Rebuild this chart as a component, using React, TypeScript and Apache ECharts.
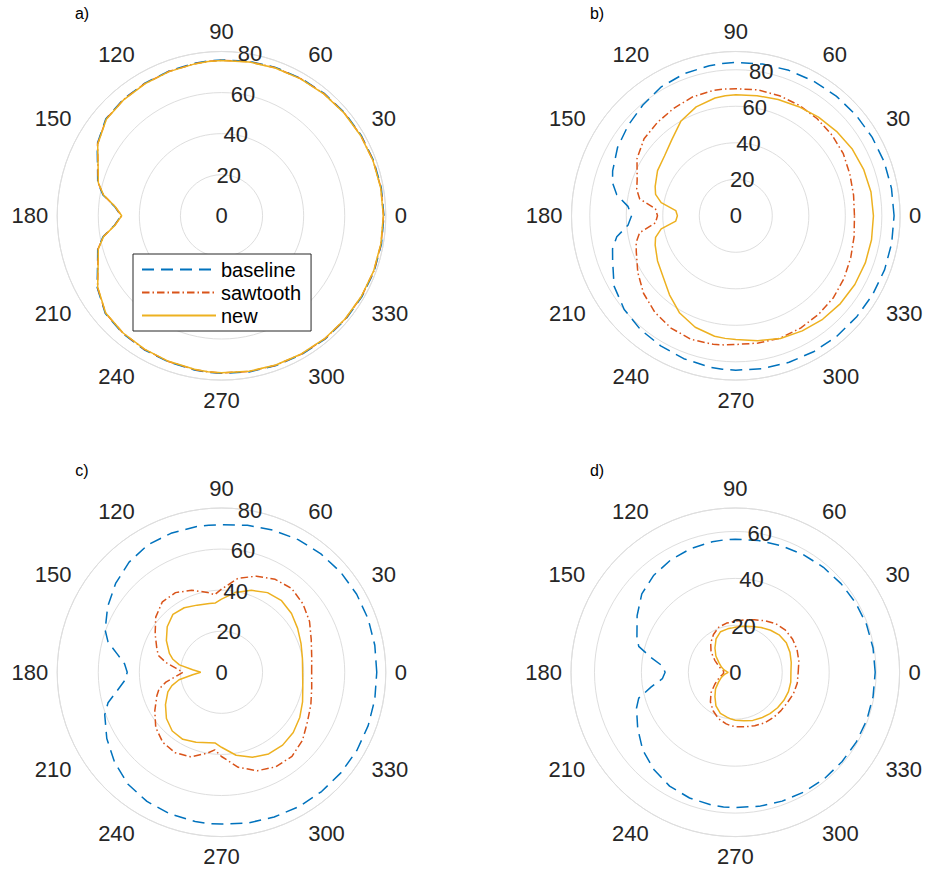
import React, { useEffect, useRef } from 'react';
import * as echarts from 'echarts';

// angle samples (degrees)
const angles = [0, 10, 20, 30, 40, 50, 60, 70, 80, 90, 95, 100, 110, 120, 130, 140, 150, 160, 165, 170, 175, 180, 185, 190, 195, 200, 210, 220, 230, 240, 250, 260, 265, 270, 280, 290, 300, 310, 320, 330, 340, 350, 360];

const radiusTicks = [0, 20, 40, 60, 80];
const angleTicks = [0, 30, 60, 90, 120, 150, 180, 210, 240, 270, 300, 330];
const seriesNames = ['baseline', 'sawtooth', 'new'];

// a)
const aBaseline = [79.1, 79.0, 78.8, 78.5, 78.2, 77.8, 77.3, 76.9, 76.4, 75.9, 75.7, 75.4, 75.0, 74.6, 74.2, 73.5, 69.9, 64.2, 62.4, 58.6, 52.3, 48.9, 52.3, 58.6, 62.4, 64.2, 69.9, 73.9, 74.8, 75.3, 75.7, 76.2, 76.5, 76.7, 77.2, 77.6, 78.0, 78.4, 78.7, 78.9, 79.1, 79.1, 79.1];
const aSawtooth = [78.9, 78.8, 78.6, 78.3, 78.0, 77.6, 77.1, 76.7, 76.2, 75.7, 75.5, 75.2, 74.8, 74.4, 74.0, 73.3, 69.7, 64.0, 62.2, 58.4, 52.1, 48.7, 52.1, 58.4, 62.2, 64.0, 69.7, 73.7, 74.6, 75.1, 75.5, 76.0, 76.3, 76.5, 77.0, 77.4, 77.8, 78.2, 78.5, 78.7, 78.9, 78.9, 78.9];
const aNew = [78.8, 78.7, 78.5, 78.2, 77.9, 77.5, 77.0, 76.6, 76.1, 75.6, 75.4, 75.1, 74.7, 74.3, 73.9, 73.2, 69.6, 63.9, 62.1, 58.3, 52.0, 48.6, 52.0, 58.3, 62.1, 63.9, 69.6, 73.6, 74.5, 75.0, 75.4, 75.9, 76.2, 76.4, 76.9, 77.3, 77.7, 78.1, 78.4, 78.6, 78.8, 78.8, 78.8];

// b)
const bBaseline = [86.7, 86.6, 86.5, 86.2, 85.9, 85.6, 85.2, 84.8, 84.4, 84.0, 83.8, 83.5, 82.8, 81.6, 79.2, 77.0, 74.8, 71.8, 69.9, 66.2, 59.3, 57.1, 59.3, 66.2, 69.9, 71.8, 77.0, 79.8, 81.3, 82.3, 83.3, 84.1, 84.4, 84.6, 85.0, 85.4, 85.8, 86.1, 86.3, 86.5, 86.7, 86.7, 86.7];
const bSawtooth = [65.0, 65.5, 66.5, 68.0, 68.8, 69.4, 69.8, 70.0, 70.0, 69.6, 69.7, 69.8, 69.3, 68.0, 66.8, 65.6, 62.5, 57.5, 56.2, 53.5, 44.2, 42.9, 44.2, 53.5, 56.5, 58.0, 62.0, 66.0, 69.0, 71.0, 72.0, 71.5, 71.0, 70.5, 70.8, 71.3, 71.0, 70.5, 69.8, 68.5, 67.0, 65.8, 65.0];
const bNew = [75.4, 75.2, 74.5, 73.5, 72.0, 70.5, 69.0, 67.8, 66.8, 66.3, 66.0, 65.5, 63.5, 60.0, 54.5, 51.0, 49.5, 47.0, 45.5, 41.5, 33.0, 32.0, 33.0, 41.5, 45.5, 47.0, 49.5, 52.0, 56.5, 61.5, 65.0, 67.0, 67.4, 67.7, 69.5, 71.5, 72.8, 74.0, 74.8, 75.3, 75.5, 75.5, 75.4];

// c)
const cBaseline = [75.6, 75.8, 76.0, 76.0, 75.8, 75.3, 74.6, 73.6, 72.7, 71.9, 71.9, 72.0, 72.0, 71.7, 70.0, 67.3, 64.0, 60.3, 57.2, 51.6, 47.4, 45.9, 47.4, 51.6, 57.2, 60.5, 64.5, 68.0, 71.0, 72.6, 73.4, 73.8, 73.9, 73.9, 74.5, 75.0, 75.5, 75.8, 76.0, 76.1, 76.0, 75.8, 75.6];
const cSawtooth = [43.9, 44.6, 46.5, 49.5, 51.8, 53.2, 52.3, 49.8, 46.5, 40.5, 37.9, 39.5, 42.5, 44.8, 44.8, 41.8, 37.3, 33.5, 31.8, 27.5, 22.1, 18.8, 22.1, 27.5, 31.5, 33.5, 37.5, 41.8, 44.5, 45.2, 43.8, 40.0, 37.9, 41.0, 47.0, 51.0, 53.1, 53.4, 51.5, 48.3, 46.3, 44.6, 43.9];
const cNew = [39.5, 40.0, 41.2, 42.8, 44.5, 45.5, 44.8, 42.5, 39.5, 35.6, 33.9, 34.0, 34.8, 36.3, 36.8, 34.5, 31.0, 27.0, 24.5, 20.8, 14.1, 10.1, 14.1, 21.0, 25.0, 27.8, 31.5, 35.0, 37.3, 37.7, 36.2, 34.8, 34.6, 36.5, 41.0, 44.0, 45.9, 46.3, 45.6, 44.0, 42.0, 40.2, 39.5];

// d)
const dBaseline = [59.6, 59.6, 59.5, 59.2, 58.8, 58.4, 57.9, 57.4, 57.0, 56.7, 56.6, 56.5, 56.0, 55.2, 54.0, 52.0, 48.3, 44.6, 42.6, 36.5, 31.2, 29.9, 31.2, 36.5, 42.6, 44.8, 48.0, 51.5, 54.0, 56.0, 57.0, 57.5, 57.6, 57.6, 58.0, 58.4, 58.8, 59.1, 59.3, 59.5, 59.6, 59.6, 59.6];
const dSawtooth = [26.8, 27.5, 28.0, 28.2, 27.9, 27.0, 25.4, 23.8, 22.7, 21.8, 21.4, 21.3, 20.5, 18.6, 16.3, 13.5, 10.0, 7.5, 6.5, 5.5, 5.0, 5.0, 5.0, 5.5, 6.5, 7.5, 10.0, 13.5, 16.5, 18.9, 21.0, 22.3, 22.8, 23.2, 23.6, 24.2, 24.9, 25.2, 25.4, 25.7, 26.4, 26.8, 26.8];
const dNew = [23.7, 24.2, 24.8, 25.1, 24.6, 23.4, 22.0, 20.8, 19.9, 19.2, 18.9, 18.8, 18.4, 16.4, 13.5, 10.8, 8.0, 6.2, 5.3, 4.5, 3.6, 3.0, 3.6, 4.5, 5.3, 6.3, 8.2, 11.0, 13.5, 16.5, 18.6, 19.5, 20.0, 20.4, 21.0, 21.8, 22.4, 23.0, 23.5, 23.9, 24.1, 24.0, 23.7];

const FONT = '"Liberation Sans", Arial, Helvetica, sans-serif';
const GRID = '#dedede';
const TEXT = '#262626';
const COLORS = ['#0072BD', '#D95319', '#EDB120'];
const DASHES: any[] = [[12, 7], [7.5, 3, 1.5, 3], 'solid'];
const R = 164.3;

const panels = [
  { label: 'a)', cx: 221.5, cy: 215.8, rmax: 80, lx: 82, ly: 13, data: [aBaseline, aSawtooth, aNew] },
  { label: 'b)', cx: 735.8, cy: 215.8, rmax: 90, lx: 597, ly: 13, data: [bBaseline, bSawtooth, bNew] },
  { label: 'c)', cx: 221.5, cy: 672.3, rmax: 80, lx: 82, ly: 470, data: [cBaseline, cSawtooth, cNew] },
  { label: 'd)', cx: 735.3, cy: 672.3, rmax: 70, lx: 597, ly: 470, data: [dBaseline, dSawtooth, dNew] },
];

export default function App() {
  const ref = useRef<HTMLDivElement>(null);
  useEffect(() => {
    if (!ref.current) return;
    const chart = echarts.init(ref.current, null, { renderer: 'svg' });
    const polar: any[] = [];
    const angleAxis: any[] = [];
    const radiusAxis: any[] = [];
    const series: any[] = [];
    panels.forEach((p, i) => {
      polar.push({ center: [p.cx, p.cy], radius: R });
      angleAxis.push({
        polarIndex: i,
        type: 'value',
        min: 0,
        max: 360,
        interval: 30,
        startAngle: 0,
        clockwise: false,
        axisLine: { show: true, lineStyle: { color: GRID, width: 1 } },
        axisTick: { show: false },
        splitLine: { show: false },
        axisLabel: {
          margin: 9,
          fontSize: 22,
          color: TEXT,
          fontFamily: FONT,
          formatter: (v: number) => (angleTicks.includes(v) ? String(v) : ''),
        },
      });
      radiusAxis.push({
        polarIndex: i,
        type: 'value',
        min: 0,
        max: p.rmax,
        interval: 20,
        axisLine: { show: false },
        axisTick: { show: false },
        axisLabel: { show: false },
        splitLine: { show: true, lineStyle: { color: GRID, width: 1 } },
      });
      p.data.forEach((vals, s) => {
        series.push({
          type: 'line',
          name: seriesNames[s],
          coordinateSystem: 'polar',
          polarIndex: i,
          data: angles.map((a, j) => [vals[j], a]),
          symbol: 'none',
          showSymbol: false,
          smooth: false,
          silent: true,
          z: 2 + s,
          lineStyle: { color: COLORS[s], width: 1.5, type: DASHES[s] },
          itemStyle: { color: COLORS[s] },
        });
      });
    });
    // overlay polars carrying the radius tick labels along the 80 degree direction
    panels.forEach((p, i) => {
      polar.push({ center: [p.cx, p.cy], radius: R });
      angleAxis.push({
        polarIndex: 4 + i,
        type: 'value',
        min: 0,
        max: 360,
        startAngle: 80,
        show: false,
      });
      radiusAxis.push({
        polarIndex: 4 + i,
        type: 'value',
        min: 0,
        max: p.rmax,
        interval: 20,
        z: 5,
        axisLine: { show: false },
        axisTick: { show: false },
        splitLine: { show: false },
        axisLabel: {
          show: true,
          margin: 0,
          align: 'center',
          verticalAlign: 'middle',
          fontSize: 22,
          color: TEXT,
          fontFamily: FONT,
          showMaxLabel: p.rmax % 20 === 0,
          formatter: (v: number) => (radiusTicks.includes(v) ? String(v) : ''),
        },
      });
    });
    chart.setOption({
      animation: false,
      backgroundColor: '#ffffff',
      polar,
      angleAxis,
      radiusAxis,
      series,
      legend: {
        data: seriesNames,
        orient: 'vertical',
        left: 133,
        top: 254,
        padding: [4, 10, 4, 8],
        itemGap: 0,
        itemWidth: 74,
        itemHeight: 14,
        backgroundColor: '#ffffff',
        borderColor: TEXT,
        borderWidth: 1,
        borderRadius: 0,
        selectedMode: false,
        z: 10,
        itemStyle: { opacity: 0, color: 'transparent', borderWidth: 0 },
        textStyle: { fontSize: 20, color: '#000000', fontFamily: FONT, lineHeight: 23 },
      },
      graphic: panels.map((p) => ({
        type: 'text',
        x: p.lx,
        y: p.ly,
        style: {
          text: p.label,
          fontSize: 16,
          fontFamily: FONT,
          fill: '#000000',
          align: 'center',
          verticalAlign: 'middle',
        },
      })),
    });
    return () => chart.dispose();
  }, []);
  return <div ref={ref} style={{ position: 'absolute', left: 0, top: 0, width: 930, height: 876 }} />;
}
